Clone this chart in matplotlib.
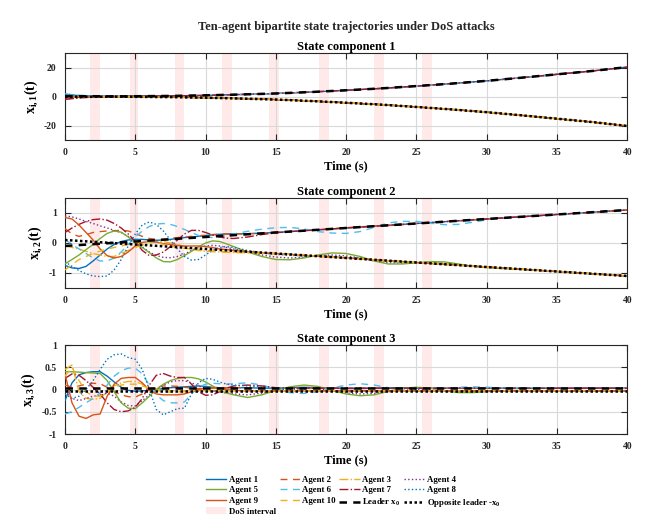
import numpy as np
import matplotlib
matplotlib.use("Agg")
import matplotlib.pyplot as plt
from matplotlib.patches import Patch

plt.rcParams["font.family"] = ["Liberation Serif", "DejaVu Serif"]
plt.rcParams["font.weight"] = "bold"
plt.rcParams["mathtext.fontset"] = "custom"
plt.rcParams["mathtext.rm"] = "Liberation Serif:bold"
plt.rcParams["mathtext.it"] = "Liberation Serif:bold"
plt.rcParams["mathtext.bf"] = "Liberation Serif:bold"

# ---- data ----
dos_start = [1.8, 4.6, 7.8, 11.2, 14.5, 18.1, 22.0, 25.4]
dos_end = [2.5, 5.2, 8.5, 11.9, 15.2, 18.8, 22.7, 26.1]

# agent time grid: 0..12 every 0.5 s, then 13..32 every 1 s, then 36, 40
t_agent = [0, 0.5, 1, 1.5, 2, 2.5, 3, 3.5, 4, 4.5, 5, 5.5, 6, 6.5, 7, 7.5, 8,
           8.5, 9, 9.5, 10, 10.5, 11, 11.5, 12,
           13, 14, 15, 16, 17, 18, 19, 20, 21, 22, 23, 24, 25, 26, 27, 28, 29,
           30, 31, 32, 36, 40]

# leader x0
t_lead1 = [0, 1, 2, 3, 4, 5, 7.5, 10, 12.5, 15, 17.5, 20, 22.5, 25, 27.5, 30,
           32.5, 35, 37.5, 40]
leader1 = [0.3, 0.2, 0.2, 0.1, 0.1, 0.2, 0.4, 0.8, 1.4, 2.1, 3.1, 4.3, 5.6, 7.2,
           8.9, 10.8, 13.0, 15.3, 17.6, 20.3]
t_lead2 = [0, 5, 10, 15, 20, 25, 30, 35, 40]
leader2 = [-0.1, 0.05, 0.2, 0.35, 0.5, 0.65, 0.8, 0.95, 1.1]
t_lead3 = [0, 40]
leader3 = [0.035, 0.035]

# +1: follows x0, -1: follows -x0
group = [1, 1, -1, -1, -1, 1, 1, -1, -1, -1]

# component 1: agent values for t = 0..5, afterwards they sit on +/- x0
comp1_start = [
    [1.5, 0.6, 0.3, 0.2, 0.15, 0.2],
    [-1.0, -0.3, 0.1, 0.1, 0.1, 0.2],
    [0.8, 0.2, -0.2, -0.1, -0.1, -0.2],
    [-1.5, -0.8, -0.4, -0.2, -0.1, -0.2],
    [0.5, 0.1, -0.2, -0.2, -0.1, -0.2],
    [1.8, 0.9, 0.4, 0.2, 0.1, 0.2],
    [-2.0, -1.0, -0.3, 0.0, 0.1, 0.2],
    [1.2, 0.4, 0.0, -0.1, -0.1, -0.2],
    [-0.5, -0.4, -0.3, -0.2, -0.1, -0.2],
    [0.3, 0.0, -0.1, -0.1, -0.1, -0.2],
]

comp2 = [
    # Agent 1
    [-0.75, -0.83, -0.85, -0.78, -0.60, -0.40, -0.20, -0.05, 0.05, 0.10, 0.12, 0.12,
     0.10, 0.09, 0.10, 0.12, 0.15, 0.18, 0.20, 0.22, 0.25, 0.27, 0.29, 0.30, 0.31,
     0.31, 0.33, 0.35, 0.38, 0.41, 0.44, 0.47, 0.50, 0.53, 0.56, 0.59, 0.62, 0.65,
     0.68, 0.71, 0.74, 0.77, 0.80, 0.83, 0.86, 0.98, 1.10],
    # Agent 2
    [0.48, 0.30, 0.22, 0.28, 0.35, 0.38, 0.40, 0.41, 0.42, 0.40, 0.32, 0.22,
     0.15, 0.12, 0.12, 0.15, 0.18, 0.20, 0.22, 0.24, 0.26, 0.28, 0.30, 0.30, 0.30,
     0.30, 0.33, 0.36, 0.38, 0.40, 0.43, 0.47, 0.51, 0.54, 0.56, 0.58, 0.61, 0.65,
     0.69, 0.72, 0.74, 0.77, 0.80, 0.83, 0.86, 0.98, 1.10],
    # Agent 3
    [-0.10, -0.15, -0.20, -0.28, -0.35, -0.40, -0.45, -0.45, -0.35, -0.25, -0.15, -0.07,
     0.00, 0.04, 0.05, 0.00, -0.05, -0.12, -0.20, -0.25, -0.28, -0.29, -0.30, -0.31, -0.32,
     -0.33, -0.34, -0.36, -0.38, -0.41, -0.44, -0.47, -0.50, -0.53, -0.56, -0.59, -0.62,
     -0.65, -0.68, -0.71, -0.74, -0.77, -0.80, -0.83, -0.86, -0.98, -1.10],
    # Agent 4
    [0.90, 0.87, 0.80, 0.72, 0.65, 0.57, 0.50, 0.42, 0.35, 0.22, 0.05, -0.13,
     -0.30, -0.42, -0.48, -0.49, -0.45, -0.37, -0.25, -0.15, -0.10, -0.08, -0.10, -0.15, -0.20,
     -0.30, -0.40, -0.47, -0.50, -0.47, -0.42, -0.40, -0.43, -0.50, -0.60, -0.66, -0.67,
     -0.66, -0.66, -0.68, -0.72, -0.77, -0.80, -0.83, -0.86, -0.98, -1.10],
    # Agent 5
    [-0.70, -0.55, -0.40, -0.22, -0.05, 0.15, 0.32, 0.40, 0.36, 0.20, 0.00, -0.15,
     -0.32, -0.50, -0.62, -0.63, -0.55, -0.42, -0.28, -0.13, 0.00, 0.07, 0.05, -0.03, -0.12,
     -0.30, -0.45, -0.55, -0.56, -0.50, -0.40, -0.33, -0.35, -0.45, -0.60, -0.70, -0.70,
     -0.66, -0.62, -0.63, -0.70, -0.78, -0.82, -0.85, -0.87, -0.98, -1.10],
    # Agent 6
    [0.12, -0.05, -0.20, -0.35, -0.50, -0.60, -0.60, -0.50, -0.30, -0.05, 0.20, 0.40,
     0.55, 0.63, 0.65, 0.62, 0.55, 0.45, 0.35, 0.25, 0.20, 0.18, 0.20, 0.25, 0.30,
     0.39, 0.46, 0.51, 0.52, 0.47, 0.38, 0.33, 0.32, 0.38, 0.52, 0.67, 0.72, 0.72,
     0.66, 0.61, 0.62, 0.69, 0.77, 0.83, 0.87, 0.98, 1.10],
    # Agent 7
    [0.35, 0.50, 0.62, 0.72, 0.78, 0.80, 0.76, 0.65, 0.50, 0.30, 0.05, -0.25,
     -0.42, -0.40, -0.30, -0.12, 0.10, 0.30, 0.42, 0.42, 0.35, 0.27, 0.20, 0.16, 0.15,
     0.20, 0.28, 0.34, 0.38, 0.41, 0.44, 0.47, 0.50, 0.53, 0.56, 0.59, 0.62, 0.65,
     0.68, 0.71, 0.74, 0.77, 0.80, 0.83, 0.86, 0.98, 1.10],
    # Agent 8
    [-0.62, -0.78, -0.92, -1.03, -1.10, -1.12, -1.10, -0.90, -0.55, -0.10, 0.30, 0.60,
     0.70, 0.62, 0.40, 0.10, -0.20, -0.45, -0.57, -0.55, -0.40, -0.25, -0.15, -0.12, -0.15,
     -0.25, -0.33, -0.38, -0.41, -0.43, -0.44, -0.46, -0.49, -0.53, -0.56, -0.59, -0.62,
     -0.65, -0.68, -0.71, -0.74, -0.77, -0.80, -0.83, -0.86, -0.98, -1.10],
    # Agent 9
    [0.85, 0.80, 0.60, 0.35, 0.10, -0.20, -0.42, -0.50, -0.45, -0.30, -0.10, 0.02,
     0.05, 0.03, -0.02, -0.05, -0.08, -0.10, -0.10, -0.10, -0.12, -0.15, -0.20, -0.22, -0.25,
     -0.29, -0.32, -0.35, -0.38, -0.41, -0.44, -0.47, -0.50, -0.53, -0.56, -0.59, -0.62,
     -0.65, -0.68, -0.71, -0.74, -0.77, -0.80, -0.83, -0.86, -0.98, -1.10],
    # Agent 10
    [-0.90, -0.72, -0.55, -0.45, -0.35, -0.27, -0.20, -0.15, -0.10, -0.05, 0.00, 0.04,
     0.05, 0.02, -0.05, -0.10, -0.15, -0.18, -0.20, -0.23, -0.25, -0.27, -0.28, -0.29, -0.30,
     -0.31, -0.33, -0.36, -0.38, -0.41, -0.44, -0.47, -0.50, -0.53, -0.56, -0.59, -0.62,
     -0.65, -0.68, -0.71, -0.74, -0.77, -0.80, -0.83, -0.86, -0.98, -1.10],
]

comp3 = [
    # Agent 1
    [-0.25, 0.15, 0.33, 0.38, 0.40, 0.40, 0.30, 0.17, 0.05, -0.02, -0.04, -0.03,
     -0.02, 0.00, 0.02, 0.04, 0.05, 0.06, 0.07, 0.08, 0.07, 0.05, 0.04, 0.04, 0.04,
     0.04, 0.03, 0.03, 0.04, 0.05, 0.04, 0.03, 0.02, 0.02, 0.03, 0.04, 0.04, 0.03,
     0.03, 0.03, 0.03, 0.03, 0.03, 0.03, 0.03, 0.03, 0.03],
    # Agent 2
    [0.10, 0.05, 0.08, 0.12, 0.14, 0.13, 0.05, -0.05, -0.12, -0.16, -0.17, -0.10,
     0.00, 0.05, 0.08, 0.08, 0.07, 0.05, 0.03, 0.02, 0.02, 0.03, 0.04, 0.04, 0.04,
     0.04, 0.03, 0.03, 0.03, 0.03, 0.03, 0.03, 0.03, 0.03, 0.03, 0.03, 0.03, 0.03,
     0.03, 0.03, 0.03, 0.03, 0.03, 0.03, 0.03, 0.03, 0.03],
    # Agent 3
    [0.45, 0.55, -0.05, -0.20, -0.22, -0.20, -0.05, 0.08, 0.15, 0.18, 0.18, 0.12,
     0.05, 0.00, -0.02, -0.03, -0.03, -0.03, -0.02, -0.02, -0.03, -0.03, -0.03, -0.03, -0.03,
     -0.03, -0.03, -0.03, -0.03, -0.03, -0.03, -0.03, -0.03, -0.03, -0.03, -0.03, -0.03,
     -0.03, -0.03, -0.03, -0.03, -0.03, -0.03, -0.03, -0.03, -0.03, -0.03],
    # Agent 4
    [-0.05, -0.20, -0.25, -0.20, -0.15, -0.13, -0.08, -0.15, -0.28, -0.36, -0.37, -0.25,
     -0.12, 0.00, 0.10, 0.17, 0.20, 0.20, 0.15, 0.08, 0.02, -0.03, -0.06, -0.08, -0.10,
     -0.12, -0.08, -0.02, 0.02, 0.04, 0.02, -0.03, -0.08, -0.10, -0.09, -0.05, -0.02,
     0.00, -0.01, -0.04, -0.05, -0.05, -0.04, -0.03, -0.03, -0.03, -0.03],
    # Agent 5
    [0.40, 0.40, 0.39, 0.38, 0.37, 0.36, 0.20, -0.05, -0.30, -0.42, -0.43, -0.30,
     -0.15, 0.00, 0.12, 0.20, 0.25, 0.27, 0.27, 0.24, 0.17, 0.08, -0.02, -0.08, -0.12,
     -0.18, -0.12, -0.02, 0.06, 0.10, 0.07, -0.02, -0.10, -0.14, -0.12, -0.04, 0.03,
     0.05, 0.03, -0.03, -0.07, -0.07, -0.05, -0.03, -0.02, -0.03, -0.03],
    # Agent 6
    [-0.55, -0.50, -0.40, -0.30, -0.20, -0.08, 0.10, 0.30, 0.42, 0.48, 0.48, 0.35,
     0.10, -0.12, -0.25, -0.30, -0.30, -0.28, -0.10, 0.05, 0.12, 0.14, 0.13, 0.12, 0.13,
     0.15, 0.10, 0.00, -0.07, -0.09, -0.05, 0.03, 0.10, 0.13, 0.10, 0.04, -0.02,
     -0.04, -0.02, 0.02, 0.05, 0.06, 0.05, 0.04, 0.03, 0.03, 0.03],
    # Agent 7
    [0.25, 0.35, 0.32, 0.20, 0.05, -0.10, -0.30, -0.45, -0.50, -0.48, -0.40, -0.20,
     0.10, 0.32, 0.36, 0.30, 0.27, 0.27, 0.12, -0.05, -0.13, -0.12, -0.05, 0.03, 0.08,
     0.10, 0.08, 0.04, 0.03, 0.03, 0.03, 0.03, 0.03, 0.03, 0.03, 0.03, 0.03, 0.03,
     0.03, 0.03, 0.03, 0.03, 0.03, 0.03, 0.03, 0.03, 0.03],
    # Agent 8
    [-0.10, -0.20, -0.15, 0.00, 0.20, 0.45, 0.68, 0.78, 0.80, 0.72, 0.68, 0.45,
     0.00, -0.45, -0.57, -0.50, -0.43, -0.42, -0.10, 0.15, 0.25, 0.23, 0.17, 0.12, 0.10,
     0.08, 0.05, 0.03, 0.00, -0.02, -0.03, -0.03, -0.03, -0.03, -0.03, -0.03, -0.03,
     -0.03, -0.03, -0.03, -0.03, -0.03, -0.03, -0.03, -0.03, -0.03, -0.03],
    # Agent 9
    [0.35, -0.30, -0.60, -0.65, -0.57, -0.55, -0.15, 0.12, 0.25, 0.27, 0.27, 0.15,
     -0.02, -0.10, -0.12, -0.12, -0.12, -0.10, -0.05, 0.00, 0.03, 0.04, 0.03, 0.00, -0.02,
     -0.03, -0.03, -0.03, -0.03, -0.03, -0.03, -0.03, -0.03, -0.03, -0.03, -0.03, -0.03,
     -0.03, -0.03, -0.03, -0.03, -0.03, -0.03, -0.03, -0.03, -0.03, -0.03],
    # Agent 10
    [0.30, 0.50, 0.20, -0.05, -0.15, -0.15, -0.05, 0.05, 0.10, 0.12, 0.12, 0.08,
     0.03, -0.02, -0.05, -0.06, -0.05, -0.05, -0.03, -0.03, -0.03, -0.03, -0.03, -0.03, -0.03,
     -0.03, -0.03, -0.03, -0.03, -0.03, -0.03, -0.03, -0.03, -0.03, -0.03, -0.03, -0.03,
     -0.03, -0.03, -0.03, -0.03, -0.03, -0.03, -0.03, -0.03, -0.03, -0.03],
]

agent_colors = [(0, 0.447, 0.741), (0.85, 0.325, 0.098), (0.929, 0.694, 0.125),
                (0.494, 0.184, 0.556), (0.466, 0.674, 0.188), (0.301, 0.745, 0.933),
                (0.635, 0.078, 0.184), (0, 0.447, 0.741), (0.85, 0.325, 0.098),
                (0.929, 0.694, 0.125)]
agent_styles = ["-", (0, (5, 4)), "-.", ":", "-", (0, (5, 4)), "-.", ":", "-", (0, (5, 4))]

dos_color = (1.0, 0.88, 0.88)
axis_col = (0.15, 0.15, 0.15)

fig = plt.figure(figsize=(6.53, 5.26), dpi=100)
positions = [[0.0995, 0.7338, 0.861, 0.1654],
             [0.0995, 0.4525, 0.861, 0.1711],
             [0.0995, 0.1749, 0.861, 0.1692]]
ylims = [(-30, 30), (-1.5, 1.5), (-1, 1)]
yticks = [[-20, 0, 20], [-1, 0, 1], [-1, -0.5, 0, 0.5, 1]]
yticklabels = [["-20", "0", "20"], ["-1", "0", "1"], ["-1", "-0.5", "0", "0.5", "1"]]

t_agent = np.array(t_agent)
lead = [(np.array(t_lead1), np.array(leader1)),
        (np.array(t_lead2), np.array(leader2)),
        (np.array(t_lead3), np.array(leader3))]

handles = {}
for k in range(3):
    ax = fig.add_axes(positions[k])
    for s, e in zip(dos_start, dos_end):
        ax.axvspan(s, e, color=dos_color, alpha=0.7, lw=0, zorder=0)
    for i in range(10):
        if k == 0:
            tt = np.array(t_lead1)
            yy = np.concatenate([comp1_start[i], group[i] * np.array(leader1[6:])])
        elif k == 1:
            tt, yy = t_agent, np.array(comp2[i])
        else:
            tt, yy = t_agent, np.array(comp3[i])
        (ln,) = ax.plot(tt, yy, color=agent_colors[i], ls=agent_styles[i], lw=1.0, zorder=3)
        handles[f"Agent {i + 1}"] = ln
    tl, yl = lead[k]
    (l0,) = ax.plot(tl, yl, color="k", ls=(0, (3, 2.5)), lw=1.8, zorder=4)
    (l1,) = ax.plot(tl, -yl, color="k", ls=(0, (1, 1)), lw=1.8, zorder=4)
    handles["Leader"] = l0
    handles["Opp"] = l1

    ax.set_xlim(0, 40)
    ax.set_ylim(*ylims[k])
    ax.set_xticks(range(0, 41, 5))
    ax.set_yticks(yticks[k])
    ax.set_yticklabels(yticklabels[k])
    ax.grid(True, color=(0.85, 0.85, 0.85), lw=0.8)
    ax.set_axisbelow(True)
    ax.tick_params(direction="in", top=True, right=True, length=4, width=0.8,
                   labelsize=7, colors=axis_col, pad=6)
    for sp in ax.spines.values():
        sp.set_color(axis_col)
        sp.set_linewidth(0.8)
    ax.set_title(f"State component {k + 1}", fontsize=9, fontweight="bold", pad=2)
    ax.set_xlabel("Time (s)", fontsize=9, fontweight="bold", labelpad=2)
    ax.set_ylabel(r"$\mathbf{x_{i,%d}(t)}$" % (k + 1), fontsize=10, labelpad=3)

fig.text(0.53, 0.949, "Ten-agent bipartite state trajectories under DoS attacks",
         ha="center", va="center", fontsize=9, fontweight="bold", color=axis_col)

dos_patch = Patch(facecolor=dos_color, edgecolor="none", alpha=0.7)
order = [("Agent 1", handles["Agent 1"]), ("Agent 5", handles["Agent 5"]),
         ("Agent 9", handles["Agent 9"]), ("DoS interval", dos_patch),
         ("Agent 2", handles["Agent 2"]), ("Agent 6", handles["Agent 6"]),
         ("Agent 10", handles["Agent 10"]),
         ("Agent 3", handles["Agent 3"]), ("Agent 7", handles["Agent 7"]),
         (r"Leader x$_0$", handles["Leader"]),
         ("Agent 4", handles["Agent 4"]), ("Agent 8", handles["Agent 8"]),
         (r"Opposite leader -x$_0$", handles["Opp"])]
leg = fig.legend([h for _, h in order], [l for l, _ in order], ncol=4,
                 loc="upper left", bbox_to_anchor=(0.309, 0.104), frameon=False,
                 borderpad=0, fontsize=6.3, handlelength=2.3, handletextpad=0.3,
                 columnspacing=0.4, labelspacing=0.28)

fig.savefig("out.png", dpi=100)
